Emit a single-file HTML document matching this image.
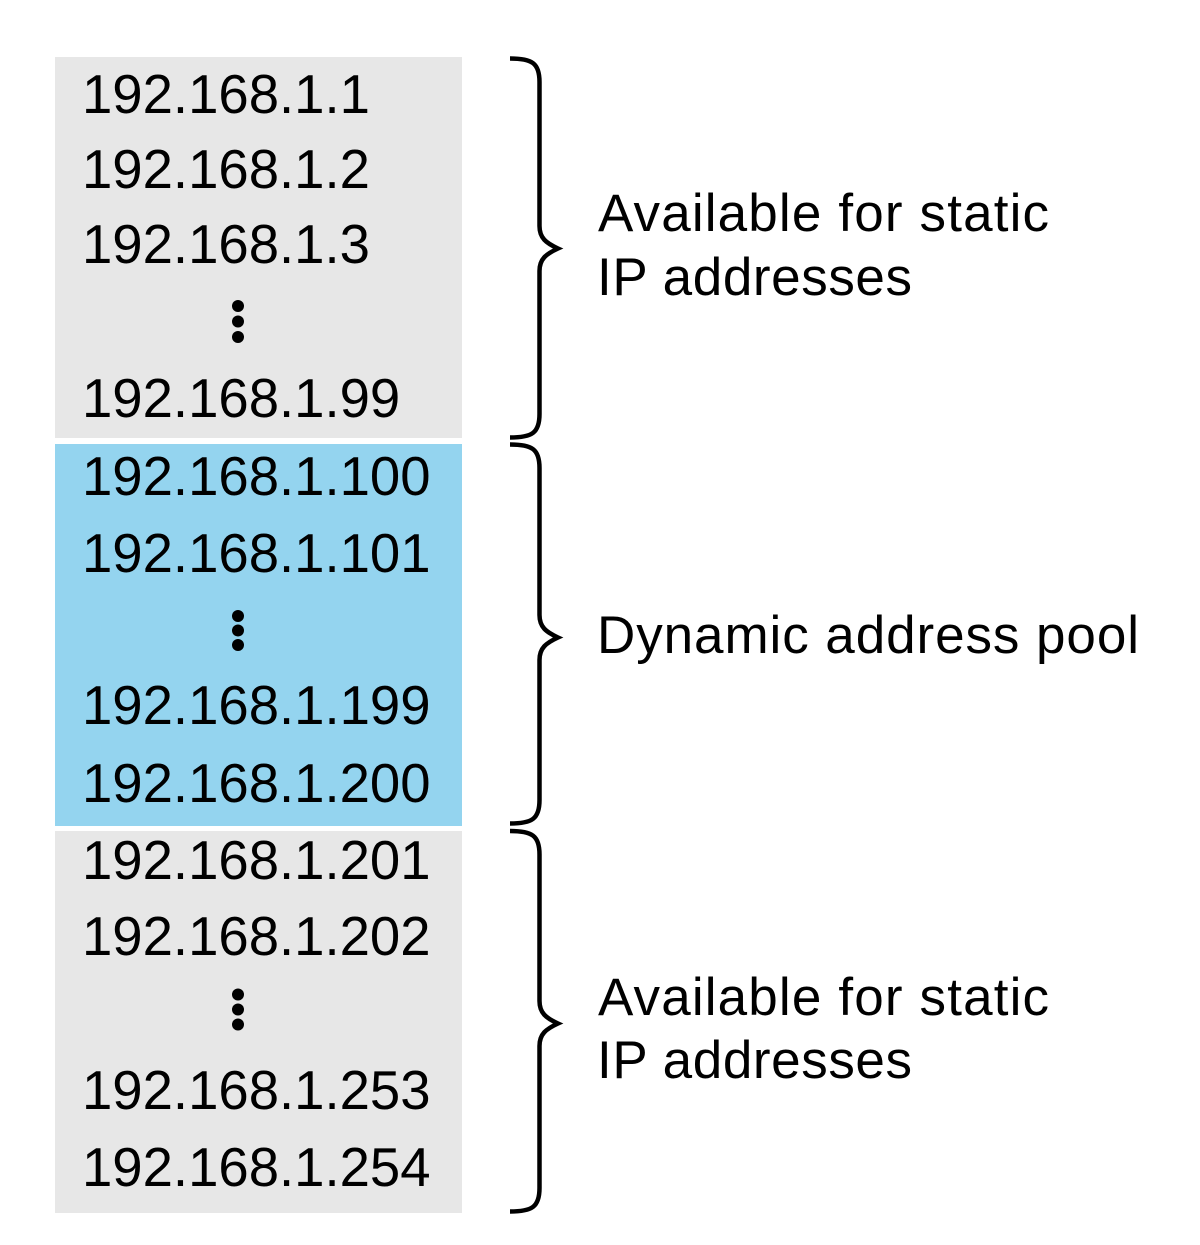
<!DOCTYPE html>
<html>
<head>
<meta charset="utf-8">
<style>
  html, body { margin: 0; padding: 0; background: #ffffff; }
  svg { display: block; }
  .ip { font-family: "Liberation Sans", sans-serif; font-size: 54.5px; fill: #000; }
  .lbl { font-family: "Liberation Sans", sans-serif; font-size: 53px; fill: #000; }
</style>
</head>
<body>
<svg width="1200" height="1245" viewBox="0 0 1200 1245" xmlns="http://www.w3.org/2000/svg">
  <rect x="0" y="0" width="1200" height="1245" fill="#ffffff"/>

  <!-- boxes -->
  <rect x="55" y="57" width="407" height="381" fill="#e7e7e7"/>
  <rect x="55" y="444" width="407" height="382" fill="#94d4ef"/>
  <rect x="55" y="831" width="407" height="382" fill="#e7e7e7"/>

  <!-- top section -->
  <text class="ip" x="82" y="113">192.168.1.1</text>
  <text class="ip" x="82" y="188">192.168.1.2</text>
  <text class="ip" x="82" y="263">192.168.1.3</text>
  <circle cx="238" cy="306" r="6" fill="#000"/>
  <circle cx="238" cy="321.5" r="6" fill="#000"/>
  <circle cx="238" cy="337" r="6" fill="#000"/>
  <text class="ip" x="82" y="417">192.168.1.99</text>

  <!-- blue section -->
  <text class="ip" x="82" y="495">192.168.1.100</text>
  <text class="ip" x="82" y="572">192.168.1.101</text>
  <circle cx="238" cy="616" r="6" fill="#000"/>
  <circle cx="238" cy="630.5" r="6" fill="#000"/>
  <circle cx="238" cy="645" r="6" fill="#000"/>
  <text class="ip" x="82" y="724">192.168.1.199</text>
  <text class="ip" x="82" y="802">192.168.1.200</text>

  <!-- bottom section -->
  <text class="ip" x="82" y="879">192.168.1.201</text>
  <text class="ip" x="82" y="955">192.168.1.202</text>
  <circle cx="238" cy="994.5" r="6" fill="#000"/>
  <circle cx="238" cy="1009.5" r="6" fill="#000"/>
  <circle cx="238" cy="1024.5" r="6" fill="#000"/>
  <text class="ip" x="82" y="1109">192.168.1.253</text>
  <text class="ip" x="82" y="1186">192.168.1.254</text>

  <!-- braces -->
  <g fill="none" stroke="#000" stroke-width="4.5" stroke-linejoin="miter" stroke-linecap="butt">
    <path d="M 510 58.5 C 532 58.5, 539.5 63, 539.5 82 L 539.5 226 C 539.5 238, 546 243, 558 248.5 C 546 254, 539.5 259, 539.5 271 L 539.5 414 C 539.5 433, 532 437.5, 510 437.5"/>
    <path d="M 510 444.5 C 532 444.5, 539.5 449, 539.5 468 L 539.5 615 C 539.5 627, 546 632, 558 637.5 C 546 643, 539.5 648, 539.5 660 L 539.5 800 C 539.5 819, 532 823.5, 510 823.5"/>
    <path d="M 510 831 C 532 831, 539.5 835.5, 539.5 854.5 L 539.5 1001 C 539.5 1013, 546 1018, 558 1023.5 C 546 1029, 539.5 1034, 539.5 1046 L 539.5 1188 C 539.5 1207, 532 1211.5, 510 1211.5"/>
  </g>

  <!-- labels -->
  <text class="lbl" x="598" y="231" textLength="451" lengthAdjust="spacing">Available for static</text>
  <text class="lbl" x="597" y="295" textLength="315" lengthAdjust="spacing">IP addresses</text>

  <text class="lbl" x="597" y="653" textLength="542" lengthAdjust="spacing">Dynamic address pool</text>

  <text class="lbl" x="598" y="1015" textLength="451" lengthAdjust="spacing">Available for static</text>
  <text class="lbl" x="597" y="1078" textLength="315" lengthAdjust="spacing">IP addresses</text>
</svg>
</body>
</html>
